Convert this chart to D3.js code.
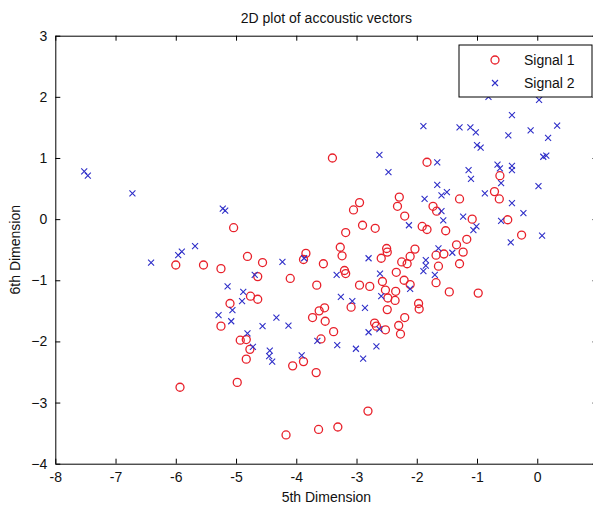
<!DOCTYPE html>
<html>
<head>
<meta charset="utf-8">
<script src="https://cdn.jsdelivr.net/npm/d3@7"></script>
<style>
  body { margin: 0; background: #fff; }
  svg { display: block; font-family: "Liberation Sans", Arial, sans-serif; }
  .axis text { font-size: 14px; fill: #111; }
  .axis path, .axis line { stroke: #000; }
</style>
</head>
<body>
<svg></svg>
<script>
// Signal 1 (red circles): [5th dim, 6th dim]
let signal1 = [
    [-5.04, -0.14], [-4.81, -0.61], [-6.00, -0.75], [-5.54, -0.75], [-5.25, -0.81],
    [-4.64, -0.94], [-4.76, -1.26], [-4.64, -1.31], [-5.10, -1.38], [-4.56, -0.71],
    [-4.10, -0.97], [-3.84, -0.56], [-3.88, -0.66], [-3.55, -0.73], [-3.66, -1.08],
    [-3.27, -0.46], [-3.24, -0.60], [-3.18, -0.22], [-2.90, -0.10], [-2.69, -0.15],
    [-3.20, -0.84], [-3.18, -0.89], [-2.95, -1.08], [-2.78, -1.10], [-3.09, -1.44],
    [-5.25, -1.75], [-4.93, -1.98], [-4.83, -1.97], [-4.77, -2.13], [-4.83, -2.29],
    [-4.98, -2.67], [-4.06, -2.40], [-3.88, -2.33], [-3.67, -2.51], [-3.73, -1.61],
    [-3.62, -1.50], [-3.53, -1.45], [-3.52, -1.67], [-3.38, -1.84], [-3.59, -1.96],
    [-2.70, -1.70], [-2.67, -1.75], [-5.93, -2.75], [-2.81, -3.14], [-3.31, -3.40],
    [-3.63, -3.44], [-4.17, -3.53], [-3.40, 1.00], [-1.83, 0.93], [-2.95, 0.27],
    [-3.05, 0.15], [-2.29, 0.36], [-2.32, 0.21], [-2.20, 0.05], [-1.91, -0.12],
    [-1.83, -0.17], [-1.73, 0.21], [-1.67, 0.13], [-1.52, -0.19], [-2.50, -0.48],
    [-2.49, -0.54], [-2.03, -0.49], [-2.11, -0.61], [-2.59, -0.64], [-2.25, -0.70],
    [-2.16, -0.73], [-1.68, -0.59], [-1.55, -0.57], [-1.64, -0.77], [-1.68, -1.04],
    [-1.46, -1.19], [-2.34, -0.87], [-2.21, -1.00], [-2.11, -1.07], [-2.57, -1.02],
    [-2.52, -1.16], [-2.35, -1.18], [-2.48, -1.29], [-2.36, -1.33], [-2.49, -1.48],
    [-1.97, -1.38], [-1.96, -1.47], [-2.52, -1.81], [-2.30, -1.74], [-2.20, -1.61],
    [-2.27, -1.88], [-0.62, 0.71], [-0.71, 0.45], [-0.63, 0.33], [-1.29, 0.33],
    [-1.08, 0.00], [-0.49, -0.01], [-0.26, -0.26], [-1.17, -0.33], [-1.34, -0.42],
    [-1.23, -0.54], [-1.29, -0.73], [-0.98, -1.21]
];

// Signal 2 (blue crosses)
let signal2 = [
    [-7.52, 0.78], [-7.46, 0.71], [-6.72, 0.42], [-5.22, 0.17], [-5.18, 0.14],
    [-5.68, -0.44], [-5.90, -0.53], [-5.96, -0.59], [-6.41, -0.71], [-4.69, -0.91],
    [-5.14, -1.10], [-4.88, -1.19], [-4.90, -1.34], [-5.06, -1.49], [-5.29, -1.57],
    [-5.08, -1.67], [-4.23, -0.70], [-3.87, -0.64], [-3.33, -0.91], [-2.80, -0.64],
    [-2.61, -0.89], [-3.26, -1.27], [-3.07, -1.34], [-2.86, -1.45], [-4.33, -1.61],
    [-4.56, -1.75], [-4.13, -1.74], [-4.81, -1.87], [-4.72, -2.09], [-4.44, -2.15],
    [-4.40, -2.33], [-4.45, -2.24], [-3.91, -2.23], [-3.65, -1.99], [-3.32, -2.06],
    [-3.01, -2.12], [-2.89, -2.28], [-2.67, -2.08], [-2.80, -1.85], [-2.62, -1.80],
    [-2.62, 1.05], [-2.47, 0.77], [-1.66, 0.93], [-1.66, 0.56], [-1.59, 0.39],
    [-1.50, 0.44], [-1.87, 0.33], [-1.59, 0.13], [-1.56, -0.02], [-2.13, -0.10],
    [-1.64, -0.48], [-1.85, -0.67], [-1.85, -0.76], [-1.89, -0.85], [-1.70, -0.91],
    [-2.11, -1.14], [-2.59, -1.26], [-0.81, 2.00], [0.03, 1.95], [-0.42, 1.70],
    [-1.89, 1.52], [-1.29, 1.50], [-1.11, 1.50], [-1.02, 1.42], [-0.48, 1.37],
    [-0.11, 1.45], [0.18, 1.33], [0.33, 1.53], [-1.00, 1.21], [-0.94, 1.17],
    [0.15, 1.04], [0.10, 1.02], [-1.14, 0.80], [-1.10, 0.66], [-0.66, 0.89],
    [-0.62, 0.83], [-0.42, 0.87], [-0.42, 0.80], [-0.60, 0.59], [0.02, 0.54],
    [-0.87, 0.42], [-0.42, 0.26], [-0.23, 0.10], [-0.60, -0.03], [-0.44, -0.38],
    [0.08, -0.27], [-1.23, 0.04], [-1.01, -0.12], [-1.06, -0.18], [-1.41, -0.55]
];

let xTicks = [-8, -7, -6, -5, -4, -3, -2, -1, 0, 1];
let xTickLabels = ["-8", "-7", "-6", "-5", "-4", "-3", "-2", "-1", "0", ""]; // 1 falls off the picture
let yTicks = [-4, -3, -2, -1, 0, 1, 2, 3];
let seriesNames = ["Signal 1", "Signal 2"];

drawChart();

function drawChart() {
    let svgWidth = 593, svgHeight = 508;
    let left = 55.3, right = 597.5, top = 35.7, bottom = 463.7;
    let red = "#e8202a", blue = "#2f2fc8";

    let svg = d3.select("svg")
        .attr("width", svgWidth)
        .attr("height", svgHeight);

    let x = d3.scaleLinear().domain([-8, 1]).range([left, right]);
    let y = d3.scaleLinear().domain([-4, 3]).range([bottom, top]);

    // bottom axis with labels, ticks pointing inward
    svg.append("g")
        .attr("class", "axis")
        .attr("transform", "translate(0," + bottom + ")")
        .call(d3.axisBottom(x).tickValues(xTicks).tickSizeInner(-5).tickSizeOuter(0).tickPadding(8)
            .tickFormat(function (d, i) { return xTickLabels[i] }));

    svg.append("g")
        .attr("class", "axis")
        .attr("transform", "translate(" + left + ",0)")
        .call(d3.axisLeft(y).tickValues(yTicks).tickSizeInner(-5).tickSizeOuter(0).tickPadding(8)
            .tickFormat(d3.format("d")));

    svg.append("g")
        .attr("class", "axis")
        .attr("transform", "translate(0," + top + ")")
        .call(d3.axisTop(x).tickValues(xTicks).tickSizeInner(-5).tickSizeOuter(0).tickFormat(""));

    svg.append("g")
        .attr("class", "axis")
        .attr("transform", "translate(" + right + ",0)")
        .call(d3.axisRight(y).tickValues(yTicks).tickSizeInner(-5).tickSizeOuter(0).tickFormat(""));

    // points
    svg.append("g")
        .selectAll("circle")
        .data(signal1)
        .enter().append("circle")
        .attr("cx", function (d) { return x(d[0]) })
        .attr("cy", function (d) { return y(d[1]) })
        .attr("r", 4)
        .attr("fill", "none")
        .attr("stroke", red)
        .attr("stroke-width", 1.3);

    let s = 3;
    svg.append("g")
        .selectAll("path")
        .data(signal2)
        .enter().append("path")
        .attr("d", function (d) {
            let cx = x(d[0]), cy = y(d[1]);
            return "M" + (cx - s) + "," + (cy - s) + "L" + (cx + s) + "," + (cy + s) +
                "M" + (cx - s) + "," + (cy + s) + "L" + (cx + s) + "," + (cy - s);
        })
        .attr("stroke", blue)
        .attr("stroke-width", 1.1)
        .attr("fill", "none");

    // legend
    let lg = svg.append("g");
    lg.append("rect")
        .attr("x", 459).attr("y", 45)
        .attr("width", 133).attr("height", 52)
        .attr("fill", "#fff")
        .attr("stroke", "#000")
        .attr("stroke-width", 1);
    lg.append("circle")
        .attr("cx", 495).attr("cy", 60).attr("r", 4)
        .attr("fill", "none").attr("stroke", red).attr("stroke-width", 1.3);
    lg.append("path")
        .attr("d", "M" + (495 - s) + "," + (83 - s) + "L" + (495 + s) + "," + (83 + s) +
            "M" + (495 - s) + "," + (83 + s) + "L" + (495 + s) + "," + (83 - s))
        .attr("stroke", blue).attr("stroke-width", 1.1);
    lg.selectAll("text")
        .data(seriesNames)
        .enter().append("text")
        .attr("x", 524)
        .attr("y", function (d, i) { return 60 + i * 23 })
        .attr("dy", "0.35em")
        .attr("font-size", 14)
        .attr("fill", "#111")
        .text(function (d) { return d });

    // title and labels
    svg.append("text")
        .attr("x", (left + right) / 2)
        .attr("y", 23)
        .attr("text-anchor", "middle")
        .attr("font-size", 14)
        .attr("fill", "#111")
        .text("2D plot of accoustic vectors");

    svg.append("text")
        .attr("x", (left + right) / 2)
        .attr("y", 502)
        .attr("text-anchor", "middle")
        .attr("font-size", 14)
        .attr("fill", "#111")
        .text("5th Dimension");

    svg.append("text")
        .attr("transform", "translate(20," + (top + bottom) / 2 + ") rotate(-90)")
        .attr("text-anchor", "middle")
        .attr("font-size", 14)
        .attr("fill", "#111")
        .text("6th Dimension");
}
</script>
</body>
</html>
